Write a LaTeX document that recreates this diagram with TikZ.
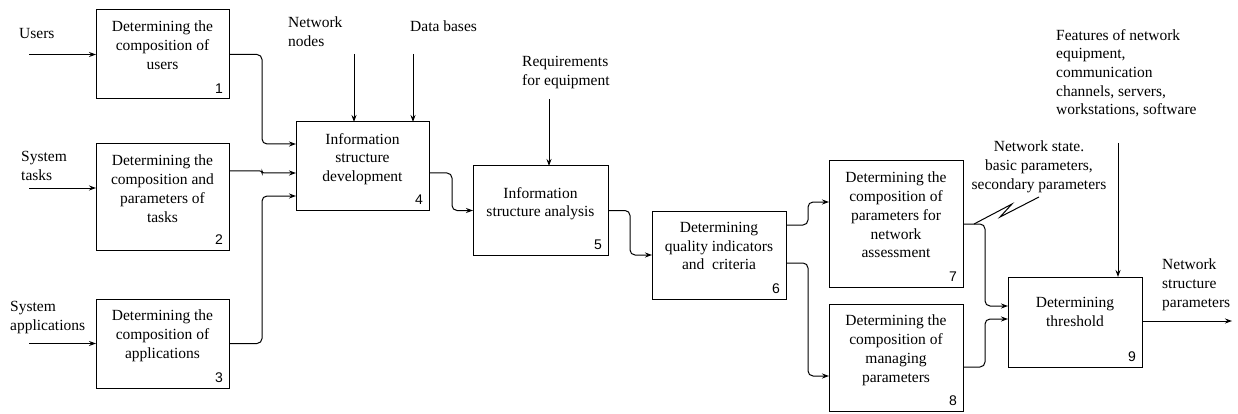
\documentclass[tikz,border=0pt]{standalone}
\usepackage{fontspec}
\setmainfont{Liberation Serif}
\newfontfamily\numfont{Liberation Sans}
\usetikzlibrary{arrows.meta,calc}
\tikzset{
  boxnode/.style={draw, line width=1pt, rectangle, inner sep=0, outer sep=0},
  txt/.style={font=\rmfamily\fontsize{15.5}{18.7}\selectfont, align=center, inner sep=0, anchor=north},
  lbl/.style={font=\rmfamily\fontsize{15.5}{18.7}\selectfont, align=left, inner sep=0, anchor=north west},
  num/.style={font=\numfont\fontsize{14}{16}\selectfont, inner sep=0, anchor=south east},
  conn/.style={line width=1pt, rounded corners=5pt, -{Stealth[length=7pt,width=5pt]}},
  plain/.style={line width=1pt}
}
\begin{document}
\begin{tikzpicture}[x=1pt,y=-1pt]
\useasboundingbox (0,0) rectangle (1238,414);
% boxes
\node[boxnode, minimum width=133pt, minimum height=89pt] (b1) at (162.5,54.5) {};
\node[boxnode, minimum width=133pt, minimum height=106pt] (b2) at (162.5,197) {};
\node[boxnode, minimum width=133pt, minimum height=89pt] (b3) at (162.5,343.5) {};
\node[boxnode, minimum width=133pt, minimum height=88pt] (b4) at (362.5,166) {};
\node[boxnode, minimum width=135pt, minimum height=89pt] (b5) at (540.5,210.5) {};
\node[boxnode, minimum width=134pt, minimum height=88pt] (b6) at (719,255) {};
\node[boxnode, minimum width=134pt, minimum height=126pt] (b7) at (896,224) {};
\node[boxnode, minimum width=134pt, minimum height=107pt] (b8) at (896,357.5) {};
\node[boxnode, minimum width=134pt, minimum height=90pt] (b9) at (1075,322) {};
% box texts
\node[txt] (t1) at (162.5,21) {Determining the\\composition of\\users};
\node[txt] (t2) at (162.5,155) {Determining the\\composition and\\parameters of\\tasks};
\node[txt] (t3) at (162.5,310) {Determining the\\composition of\\applications};
\node[txt] (t4) at (362.5,133) {Information\\structure\\development};
\node[txt] (t5) at (540.5,187) {Information\\structure analysis};
\node[txt] (t6) at (719,222) {Determining\\quality indicators\\and\ \ criteria};
\node[txt] (t7) at (896,172) {Determining the\\composition of\\parameters for\\network\\assessment};
\node[txt] (t8) at (896,315) {Determining the\\composition of\\managing\\parameters};
\node[txt] (t9) at (1075,297) {Determining\\threshold};
% external labels
\node[lbl] (lu) at (19,28) {Users};
\node[lbl] (lt) at (21,151) {System\\tasks};
\node[lbl] (la) at (10,301) {System\\applications};
\node[lbl] (lnn) at (288,17) {Network\\nodes};
\node[lbl] (ldb) at (410,21) {Data bases};
\node[lbl] (lrq) at (522,56) {Requirements\\for equipment};
\node[lbl] (lft) at (1056,29) {Features of network\\equipment,\\communication\\channels, servers,\\workstations, software};
\node[txt] (lns) at (1039,141) {Network state.\\basic parameters,\\secondary parameters};
\node[lbl] (lout) at (1162,259) {Network\\structure\\parameters};
% numbers
\node[num] (n1) at ([shift={(-6pt,5pt)}]b1.south east) {1};
\node[num] (n2) at ([shift={(-6pt,5pt)}]b2.south east) {2};
\node[num] (n3) at ([shift={(-6pt,5pt)}]b3.south east) {3};
\node[num] (n4) at ([shift={(-6pt,5pt)}]b4.south east) {4};
\node[num] (n5) at ([shift={(-6pt,5pt)}]b5.south east) {5};
\node[num] (n6) at ([shift={(-6pt,5pt)}]b6.south east) {6};
\node[num] (n7) at ([shift={(-6pt,5pt)}]b7.south east) {7};
\node[num] (n8) at ([shift={(-6pt,5pt)}]b8.south east) {8};
\node[num] (n9) at ([shift={(-6pt,5pt)}]b9.south east) {9};
% free ends
\coordinate (uin) at (29,54.5);
\coordinate (tin) at (29,188);
\coordinate (ain) at (29,343.5);
\coordinate (nn) at (354,54);
\coordinate (db) at (413,54);
\coordinate (rq) at (549,99);
\coordinate (ft) at (1118,143);
\coordinate (out) at (1232,321);
% connectors
\draw[conn] (uin) -- (b1.west);
\draw[conn] (tin) -- (tin -| b2.west);
\draw[conn] (ain) -- (b3.west);
\draw[conn] (b1.east) -- ++(33,0) |- ([yshift=22pt]b4.west);
\draw[conn, rounded corners=2pt] ([yshift=26pt]b2.east) -- ++(33,0) -- ++(0,2) -- ([yshift=-7pt]b4.west);
\draw[conn] (b3.east) -- ++(33,0) |- ([yshift=-30pt]b4.west);
\draw[conn] (nn) -- (nn |- b4.north);
\draw[conn] (db) -- (db |- b4.north);
\draw[conn] ([yshift=-7pt]b4.east) -- ++(23,0) |- (b5.west);
\draw[conn] (rq) -- (rq |- b5.north);
\draw[conn] (b5.east) -- ++(22,0) |- (b6.west);
\draw[conn] ([yshift=30pt]b6.east) -- ++(22,0) |- ([yshift=22pt]b7.west);
\draw[conn] ([yshift=-8pt]b6.east) -- ++(22,0) |- ([yshift=-18.5pt]b8.west);
\draw[conn] (b7.east) -- ++(22,0) |- ([yshift=16pt]b9.west);
\draw[conn] ([yshift=-9.5pt]b8.east) -- ++(22,0) |- ([yshift=3pt]b9.west);
\draw[conn] (ft) -- (ft |- b9.north);
\draw[conn] ([yshift=1pt]b9.east) -- (out);
% squiggle
\draw[plain] (974,224) -- (1012,204) -- (1000,217) -- (1039,197);
\end{tikzpicture}
\end{document}
